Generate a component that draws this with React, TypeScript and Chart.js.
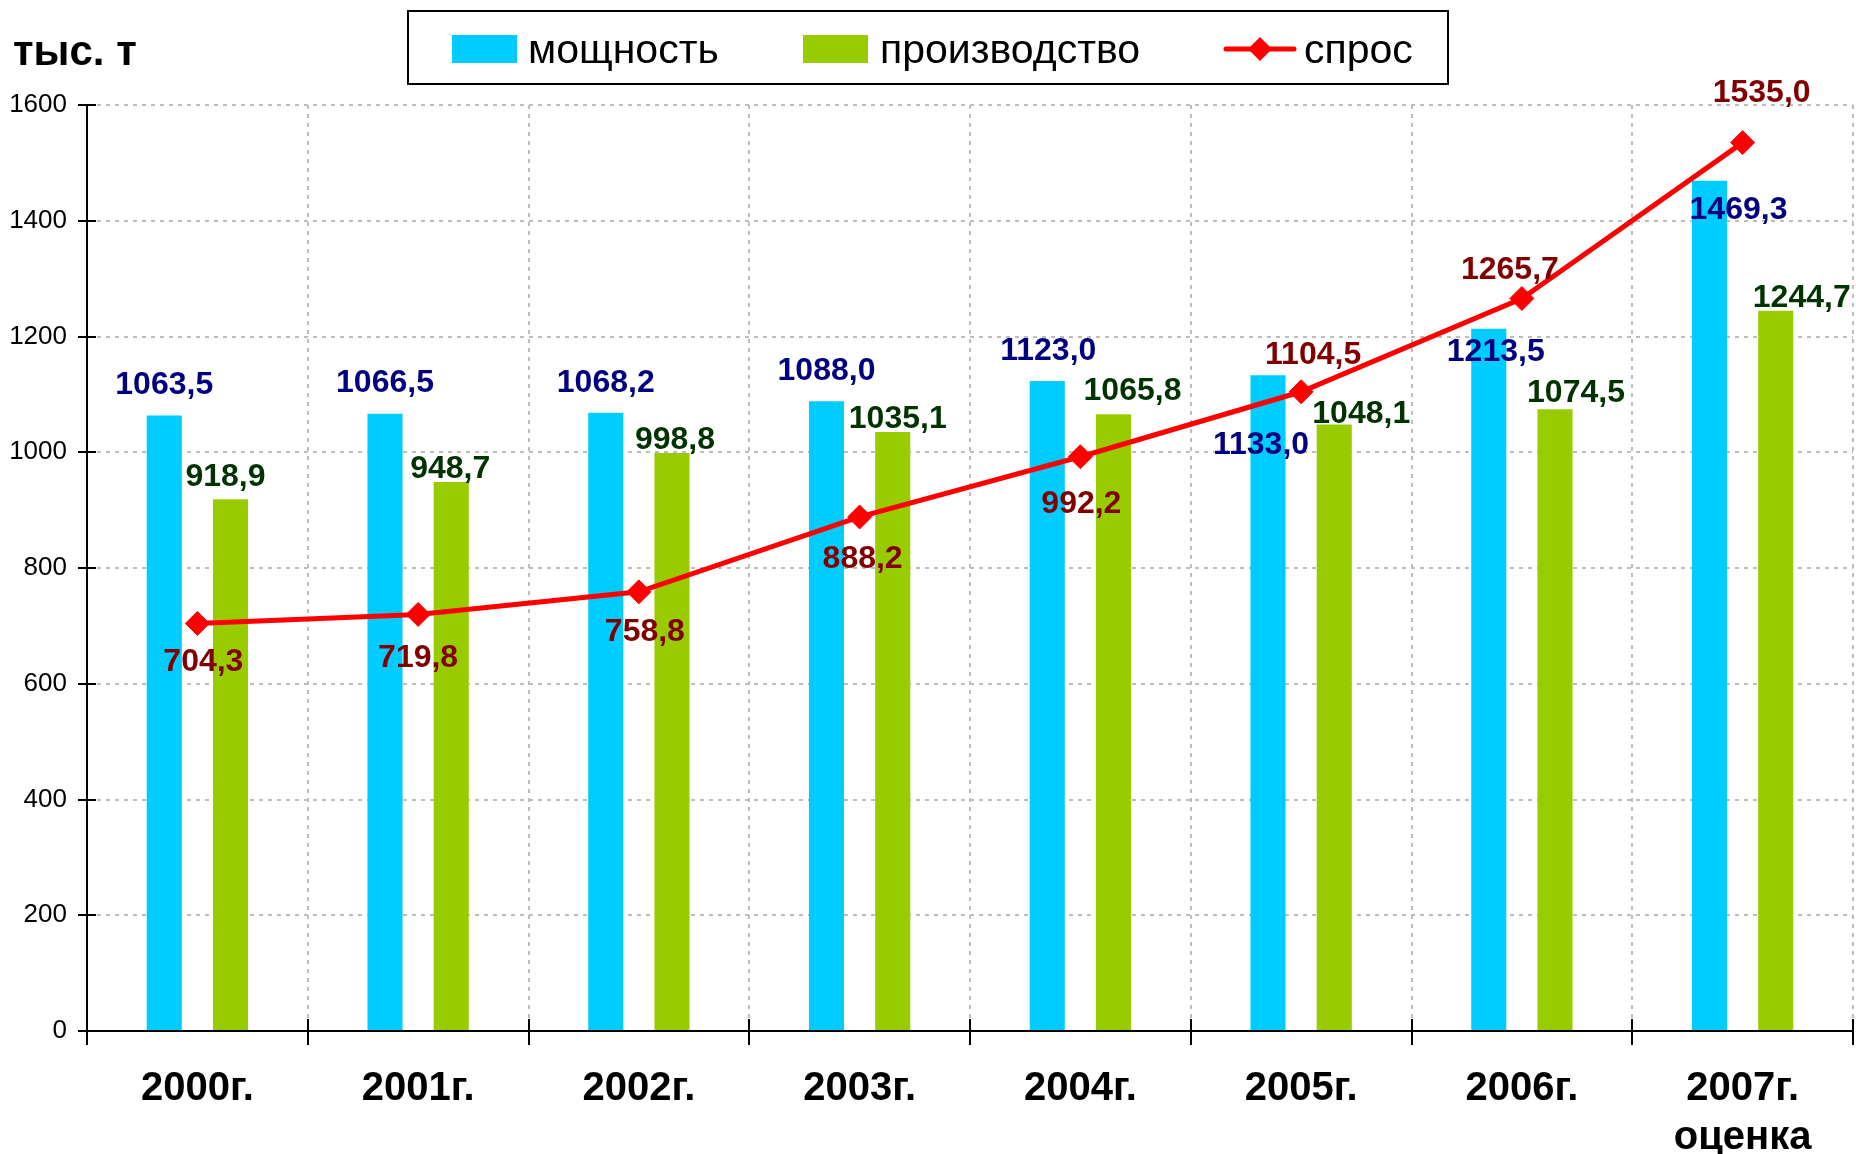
import React, { useEffect, useRef } from 'react';
import { Chart, registerables } from 'chart.js';

Chart.register(...registerables);

const categories: (string | string[])[] = ['2000г.', '2001г.', '2002г.', '2003г.', '2004г.', '2005г.', '2006г.', ['2007г.', 'оценка']];
const seriesNames = ['мощность', 'производство', 'спрос'];
const capacity = [1063.5, 1066.5, 1068.2, 1088.0, 1123.0, 1133.0, 1213.5, 1469.3];
const production = [918.9, 948.7, 998.8, 1035.1, 1065.8, 1048.1, 1074.5, 1244.7];
const demand = [704.3, 719.8, 758.8, 888.2, 992.2, 1104.5, 1265.7, 1535.0];
const yMin = 0;
const yMax = 1600;
const yStep = 200;

// label placement offsets (dx, dy) relative to bar top / point centre
const capacityLabelOffsets = [[0, -33], [0, -33], [0, -32], [0, -33], [1, -33], [-7, 67], [7, 21], [29, 27]];
const productionLabelOffsets = [[-5, -25], [-1, -15], [3, -15], [5, -15], [19, -26], [27, -13], [21, -19], [26, -15]];
const demandLabelOffsets = [[6, 36], [0, 41], [6, 38], [3, 40], [1, 45], [12, -39], [-12, -31], [19, -52]];

const FAMILY = '"Liberation Sans", Arial, sans-serif';
const BLUE = '#00CCFF';
const GREEN = '#99CC00';
const RED = '#FF0000';
const labelColors = ['#000080', '#003300', '#800000'];
const offsets = [capacityLabelOffsets, productionLabelOffsets, demandLabelOffsets];
const GRID = '#BDBDBD';

const fmt = (v: number) => v.toFixed(1).replace('.', ',');

const overlay = {
  id: 'overlay',
  afterDatasetsDraw(chart: any) {
    const ctx = chart.ctx;
    ctx.save();
    ctx.font = `bold 32px ${FAMILY}`;
    ctx.textAlign = 'center';
    ctx.textBaseline = 'alphabetic';
    chart.data.datasets.forEach((ds: any, di: number) => {
      const meta = chart.getDatasetMeta(di);
      meta.data.forEach((el: any, i: number) => {
        const [dx, dy] = offsets[di][i];
        ctx.fillStyle = labelColors[di];
        ctx.fillText(fmt(ds.data[i]), el.x + dx, el.y + dy + 11.5);
      });
    });
    ctx.restore();
  },
  afterDraw(chart: any) {
    const ctx = chart.ctx;
    const area = chart.chartArea;
    const ys = chart.scales.y;
    ctx.save();
    // tick marks crossing the axes
    ctx.strokeStyle = '#000';
    ctx.lineWidth = 2;
    ctx.beginPath();
    for (let v = yMin; v <= yMax; v += yStep) {
      const y = Math.round(ys.getPixelForValue(v));
      ctx.moveTo(area.left - 9, y);
      ctx.lineTo(area.left + 9, y);
    }
    const n = categories.length;
    const cw = (area.right - area.left) / n;
    for (let i = 0; i <= n; i++) {
      const x = Math.round(area.left + i * cw);
      ctx.moveTo(x, area.bottom - 12);
      ctx.lineTo(x, area.bottom + 14);
    }
    ctx.stroke();

    // unit title
    ctx.fillStyle = '#000';
    ctx.font = `bold 42px ${FAMILY}`;
    ctx.textAlign = 'left';
    ctx.textBaseline = 'alphabetic';
    ctx.fillText('тыс. т', 13, 65);

    // legend
    ctx.lineWidth = 2;
    ctx.strokeStyle = '#000';
    ctx.strokeRect(408, 11, 1040, 73);
    ctx.fillStyle = BLUE;
    ctx.fillRect(452, 35, 65, 28);
    ctx.fillStyle = GREEN;
    ctx.fillRect(803, 35, 65, 28);
    ctx.strokeStyle = RED;
    ctx.lineWidth = 5;
    ctx.lineCap = 'round';
    ctx.beginPath();
    ctx.moveTo(1226, 49);
    ctx.lineTo(1294, 49);
    ctx.stroke();
    ctx.fillStyle = RED;
    ctx.beginPath();
    ctx.moveTo(1260, 37);
    ctx.lineTo(1272, 49);
    ctx.lineTo(1260, 61);
    ctx.lineTo(1248, 49);
    ctx.closePath();
    ctx.fill();
    ctx.fillStyle = '#000';
    ctx.font = `41px ${FAMILY}`;
    ctx.fillText(seriesNames[0], 528, 63);
    ctx.fillText(seriesNames[1], 880, 63);
    ctx.fillText(seriesNames[2], 1304, 63);
    ctx.restore();
  },
};

export default function App() {
  const ref = useRef<HTMLCanvasElement | null>(null);
  useEffect(() => {
    if (!ref.current) return;
    const chart = new Chart(ref.current, {
      type: 'bar',
      data: {
        labels: categories,
        datasets: [
          { label: seriesNames[0], data: capacity, backgroundColor: BLUE, categoryPercentage: 0.6, barPercentage: 0.53, order: 1 },
          { label: seriesNames[1], data: production, backgroundColor: GREEN, categoryPercentage: 0.6, barPercentage: 0.53, order: 1 },
          {
            type: 'line',
            label: seriesNames[2],
            data: demand,
            borderColor: RED,
            backgroundColor: RED,
            borderWidth: 5,
            tension: 0,
            pointStyle: 'rectRot',
            pointRadius: 12,
            pointBackgroundColor: RED,
            pointBorderColor: RED,
            pointBorderWidth: 1,
            order: 0,
          } as any,
        ],
      },
      options: {
        animation: false,
        responsive: true,
        maintainAspectRatio: false,
        layout: { padding: { top: 105, right: 3, left: 0, bottom: 0 } },
        plugins: { legend: { display: false }, tooltip: { enabled: false }, title: { display: false } },
        scales: {
          x: {
            grid: {
              display: true,
              offset: true,
              drawTicks: false,
              lineWidth: 2,
              color: (c: any) => (c.index === 0 ? 'rgba(0,0,0,0)' : GRID),
            },
            border: { display: true, color: '#000', width: 2, dash: [4, 5] },
            ticks: {
              color: '#000',
              padding: 33,
              font: { family: FAMILY, size: 40, weight: 'bold', lineHeight: '49px' },
              maxRotation: 0,
              autoSkip: false,
            },
            afterFit: (s: any) => {
              s.height = 123;
              s.paddingLeft = 0;
              s.paddingRight = 0;
            },
          },
          y: {
            min: yMin,
            max: yMax,
            grid: {
              display: true,
              drawTicks: false,
              lineWidth: 2,
              color: (c: any) => (c.tick && c.tick.value === 0 ? 'rgba(0,0,0,0)' : GRID),
            },
            border: { display: true, color: '#000', width: 2, dash: [4, 5] },
            ticks: {
              stepSize: yStep,
              color: '#000',
              padding: 20,
              font: { family: FAMILY, size: 26 },
              callback: (v: any) => String(v),
            },
            afterFit: (s: any) => {
              s.width = 87;
              s.paddingTop = 0;
              s.paddingBottom = 0;
            },
          },
        },
      },
      plugins: [overlay],
    } as any);
    return () => chart.destroy();
  }, []);
  return (
    <div style={{ position: 'fixed', left: 0, top: 0, width: 1856, height: 1154, overflow: 'hidden', background: '#fff' }}>
      <div style={{ width: 1866, height: 1154 }}>
        <canvas ref={ref} />
      </div>
    </div>
  );
}
